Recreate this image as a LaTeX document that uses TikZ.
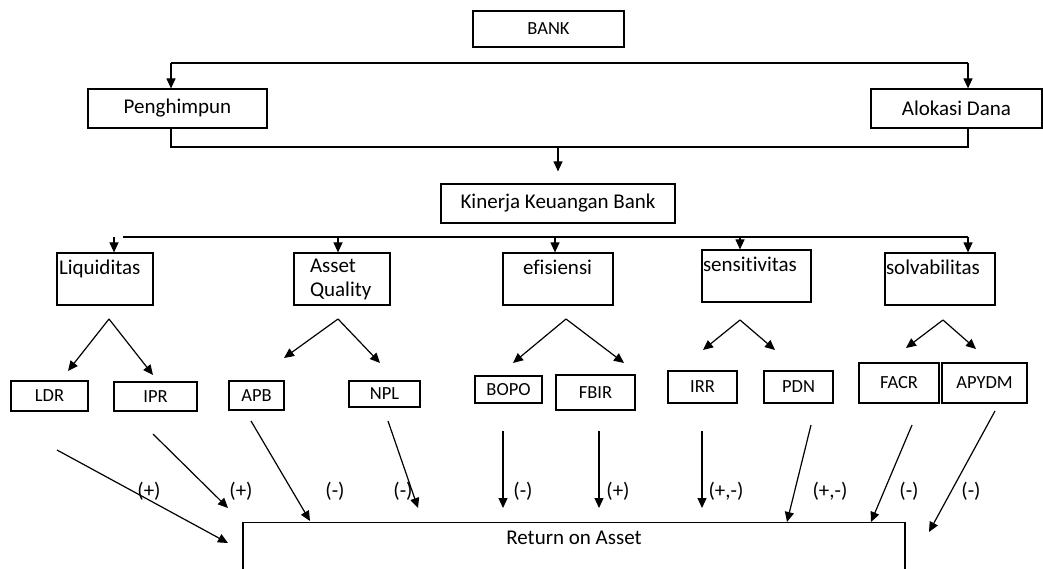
\documentclass[tikz,border=0pt]{standalone}
\usepackage{fontspec}
\setmainfont[Ligatures={NoCommon}]{Carlito}
\usetikzlibrary{arrows.meta,positioning}

\tikzset{
  arr/.style={-{Triangle[length=10pt,width=9pt]},line width=1.2pt},
  box/.style={draw,line width=1.2pt,rectangle,inner sep=0pt,font=\fontsize{21}{24}\selectfont},
  smallbox/.style={box,font=\fontsize{18.5}{22}\selectfont},
  catbox/.style={box,align=left,minimum height=52pt,inner ysep=0pt},
  sign/.style={font=\fontsize{21}{24}\selectfont,inner sep=0pt}
}

\begin{document}
\begin{tikzpicture}[x=1pt,y=-1pt,line width=1.2pt]
\useasboundingbox (0,0) rectangle (1043,569);

% Top level
\node[smallbox,minimum width=151pt,minimum height=36pt] (bank) at (548.5,29) {BANK};
\node[box,minimum width=179pt,minimum height=39pt] (pengh) at (177.5,108.5) {Penghimpun};
\node[box,minimum width=171pt,minimum height=39pt] (alok) at (956.5,108.5) {Alokasi Dana};
\node[box,minimum width=234pt,minimum height=39pt] (kin) at (558,203.5) {Kinerja Keuangan Bank};

% Split and join
\coordinate (t1) at (171,63);
\coordinate (t2) at (968,63);
\draw (t1) -- (t2);
\draw[arr] (t1) -- (t1 |- pengh.north);
\draw[arr] (t2) -- (t2 |- alok.north);
\coordinate (m) at (558,147);
\draw (pengh.south -| t1) |- (m) -| (alok.south -| t2);
\draw[arr] (m) -- ([yshift=12pt]kin.north);

% Aspects of performance
\node[catbox,inner xsep=2pt,text width=92pt] (liq) at (105,279) {Liquiditas\\~};
\node[catbox,inner xsep=16pt,text width=64pt] (asq) at (342,279) {Asset\\Quality};
\node[catbox,inner xsep=20pt,text width=70pt] (efi) at (558,279) {efisiensi\\~};
\node[catbox,inner xsep=1pt,text width=107pt] (sen) at (756.5,276) {sensitivitas\\~};
\node[catbox,inner xsep=1pt,text width=108pt] (sol) at (940,279) {solvabilitas\\~};

\coordinate (s0) at (123,237);
\coordinate (s1) at (968,237);
\draw (s0) -- (s1);
\foreach \n/\x in {liq/114,asq/338,efi/555,sen/740,sol/968}
  \draw[arr] (s0 -| \x,0) -- (\n.north -| \x,0);

% Ratios
\node[smallbox,minimum width=77pt,minimum height=30pt] (ldr) at (49.5,396) {LDR};
\node[smallbox,minimum width=83pt,minimum height=29pt] (ipr) at (155.5,396.5) {IPR};
\node[smallbox,minimum width=55pt,minimum height=29pt] (apb) at (256.5,395.5) {APB};
\node[smallbox,minimum width=71pt,minimum height=26pt] (npl) at (384.5,394) {NPL};
\node[smallbox,minimum width=67pt,minimum height=27pt] (bopo) at (508.5,389.5) {BOPO};
\node[smallbox,minimum width=79pt,minimum height=35pt] (fbir) at (595.5,392.5) {FBIR};
\node[smallbox,minimum width=69pt,minimum height=32pt] (irr) at (702.5,387) {IRR};
\node[smallbox,minimum width=69pt,minimum height=32pt] (pdn) at (798.5,387) {PDN};
\node[smallbox,minimum width=80pt,minimum height=40pt] (facr) at (899,383) {FACR};
\node[smallbox,minimum width=85pt,minimum height=40pt] (apydm) at (984.5,383) {APYDM};

% Forks under each aspect
\foreach \n/\ax/\ay/\lx/\ly/\rx/\ry in {liq/109/319/68/371/153/375,
    asq/338/319/284/358/380/363, efi/566/319/513/363/624/363,
    sen/740/320/703/350/775/350, sol/943/320/906/348/976/349}{
  \coordinate (\n-a) at (\ax,\ay);
  \coordinate (\n-l) at (\lx,\ly);
  \coordinate (\n-r) at (\rx,\ry);
  \draw[arr] (\n-a) -- (\n-l);
  \draw[arr] (\n-a) -- (\n-r);
}

% Return on Asset
\node[box,minimum width=662pt,minimum height=80pt,anchor=north] (roa) at (574,522) {};
\node[sign] (roatxt) at (574,538) {Return on Asset};

% Effects on ROA
\foreach \n/\sx/\sy/\ex/\ey/\lx/\s in {ldr/57/450/228/543/149/(+),
    ipr/153/434/228/508/241/(+), apb/251/421/310/521/335/(-),
    npl/388/421/418/508/403/(-), bopo/503/431/503/508/523/(-),
    fbir/599/431/599/508/618/(+), irr/702/431/702/508/726/{(+,-)},
    pdn/811/425/787/522/830/{(+,-)}, facr/912/425/871/522/909/(-),
    apydm/995/411/929/532/971/(-)}{
  \coordinate (\n-s) at (\sx,\sy);
  \coordinate (\n-e) at (\ex,\ey);
  \draw[arr] (\n-s) -- (\n-e);
  \node[sign] (sg-\n) at (\lx,491) {\s};
}
\end{tikzpicture}
\end{document}
